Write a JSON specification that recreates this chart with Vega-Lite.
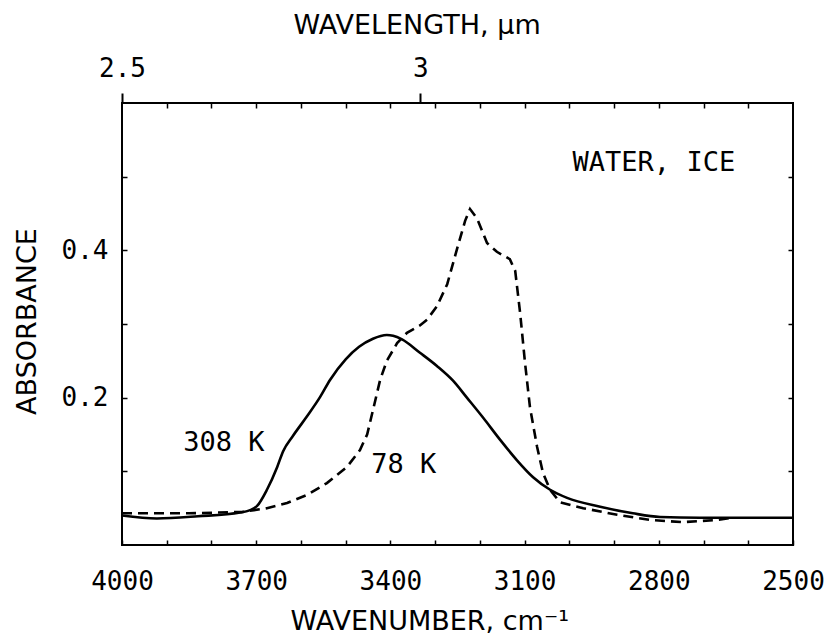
{
  "$schema": "https://vega.github.io/schema/vega-lite/v6.json",
  "width": 671,
  "height": 442,
  "autosize": {"type": "none"},
  "padding": {"left": 122, "top": 103, "right": 38, "bottom": 96},
  "background": "white",
  "config": {
    "view": {"stroke": "black", "strokeWidth": 2},
    "axis": {"grid": false, "domain": false, "tickColor": "black", "tickWidth": 1.5, "labelColor": "black", "titleColor": "black", "labelFont": "DejaVu Sans Mono", "labelFontSize": 26, "titleFont": "DejaVu Sans", "titleFontSize": 27, "titleFontWeight": "normal"}
  },
  "datasets": {
    "spectra": [
      {"series": "308 K", "wavenumber": 4000, "absorbance": 0.040},
      {"series": "308 K", "wavenumber": 3922, "absorbance": 0.036},
      {"series": "308 K", "wavenumber": 3830, "absorbance": 0.039},
      {"series": "308 K", "wavenumber": 3736, "absorbance": 0.044},
      {"series": "308 K", "wavenumber": 3715, "absorbance": 0.047},
      {"series": "308 K", "wavenumber": 3698, "absorbance": 0.053},
      {"series": "308 K", "wavenumber": 3676, "absorbance": 0.075},
      {"series": "308 K", "wavenumber": 3653, "absorbance": 0.106},
      {"series": "308 K", "wavenumber": 3640, "absorbance": 0.127},
      {"series": "308 K", "wavenumber": 3618, "absorbance": 0.148},
      {"series": "308 K", "wavenumber": 3586, "absorbance": 0.175},
      {"series": "308 K", "wavenumber": 3557, "absorbance": 0.201},
      {"series": "308 K", "wavenumber": 3535, "absorbance": 0.224},
      {"series": "308 K", "wavenumber": 3500, "absorbance": 0.252},
      {"series": "308 K", "wavenumber": 3470, "absorbance": 0.269},
      {"series": "308 K", "wavenumber": 3439, "absorbance": 0.280},
      {"series": "308 K", "wavenumber": 3408, "absorbance": 0.285},
      {"series": "308 K", "wavenumber": 3394, "absorbance": 0.284},
      {"series": "308 K", "wavenumber": 3374, "absorbance": 0.279},
      {"series": "308 K", "wavenumber": 3334, "absorbance": 0.261},
      {"series": "308 K", "wavenumber": 3296, "absorbance": 0.243},
      {"series": "308 K", "wavenumber": 3260, "absorbance": 0.223},
      {"series": "308 K", "wavenumber": 3229, "absorbance": 0.200},
      {"series": "308 K", "wavenumber": 3193, "absorbance": 0.173},
      {"series": "308 K", "wavenumber": 3155, "absorbance": 0.143},
      {"series": "308 K", "wavenumber": 3117, "absorbance": 0.115},
      {"series": "308 K", "wavenumber": 3081, "absorbance": 0.092},
      {"series": "308 K", "wavenumber": 3043, "absorbance": 0.075},
      {"series": "308 K", "wavenumber": 3005, "absorbance": 0.064},
      {"series": "308 K", "wavenumber": 2931, "absorbance": 0.052},
      {"series": "308 K", "wavenumber": 2858, "absorbance": 0.043},
      {"series": "308 K", "wavenumber": 2797, "absorbance": 0.038},
      {"series": "308 K", "wavenumber": 2708, "absorbance": 0.037},
      {"series": "308 K", "wavenumber": 2500, "absorbance": 0.037},
      {"series": "78 K", "wavenumber": 4000, "absorbance": 0.043},
      {"series": "78 K", "wavenumber": 3850, "absorbance": 0.043},
      {"series": "78 K", "wavenumber": 3730, "absorbance": 0.045},
      {"series": "78 K", "wavenumber": 3676, "absorbance": 0.050},
      {"series": "78 K", "wavenumber": 3631, "absorbance": 0.057},
      {"series": "78 K", "wavenumber": 3586, "absorbance": 0.068},
      {"series": "78 K", "wavenumber": 3542, "absorbance": 0.084},
      {"series": "78 K", "wavenumber": 3497, "absorbance": 0.106},
      {"series": "78 K", "wavenumber": 3468, "absorbance": 0.129},
      {"series": "78 K", "wavenumber": 3452, "absorbance": 0.150},
      {"series": "78 K", "wavenumber": 3439, "absorbance": 0.183},
      {"series": "78 K", "wavenumber": 3423, "absorbance": 0.224},
      {"series": "78 K", "wavenumber": 3408, "absorbance": 0.250},
      {"series": "78 K", "wavenumber": 3385, "absorbance": 0.274},
      {"series": "78 K", "wavenumber": 3363, "absorbance": 0.288},
      {"series": "78 K", "wavenumber": 3334, "absorbance": 0.298},
      {"series": "78 K", "wavenumber": 3318, "absorbance": 0.306},
      {"series": "78 K", "wavenumber": 3296, "absorbance": 0.324},
      {"series": "78 K", "wavenumber": 3273, "absorbance": 0.354},
      {"series": "78 K", "wavenumber": 3251, "absorbance": 0.402},
      {"series": "78 K", "wavenumber": 3233, "absorbance": 0.440},
      {"series": "78 K", "wavenumber": 3222, "absorbance": 0.456},
      {"series": "78 K", "wavenumber": 3206, "absorbance": 0.443},
      {"series": "78 K", "wavenumber": 3184, "absorbance": 0.410},
      {"series": "78 K", "wavenumber": 3162, "absorbance": 0.398},
      {"series": "78 K", "wavenumber": 3133, "absorbance": 0.388},
      {"series": "78 K", "wavenumber": 3121, "absorbance": 0.372},
      {"series": "78 K", "wavenumber": 3110, "absorbance": 0.315},
      {"series": "78 K", "wavenumber": 3099, "absorbance": 0.247},
      {"series": "78 K", "wavenumber": 3088, "absorbance": 0.187},
      {"series": "78 K", "wavenumber": 3072, "absorbance": 0.133},
      {"series": "78 K", "wavenumber": 3059, "absorbance": 0.098},
      {"series": "78 K", "wavenumber": 3043, "absorbance": 0.075},
      {"series": "78 K", "wavenumber": 3021, "absorbance": 0.058},
      {"series": "78 K", "wavenumber": 2969, "absorbance": 0.050},
      {"series": "78 K", "wavenumber": 2893, "absorbance": 0.041},
      {"series": "78 K", "wavenumber": 2820, "absorbance": 0.034},
      {"series": "78 K", "wavenumber": 2746, "absorbance": 0.031},
      {"series": "78 K", "wavenumber": 2670, "absorbance": 0.034},
      {"series": "78 K", "wavenumber": 2634, "absorbance": 0.037}
    ],
    "labels": [
      {"label": "308 K", "wavenumber": 3772, "absorbance": 0.138},
      {"label": "78 K", "wavenumber": 3370, "absorbance": 0.109},
      {"label": "WATER, ICE", "wavenumber": 2811, "absorbance": 0.519}
    ]
  },
  "resolve": {"axis": {"x": "independent", "y": "independent"}},
  "layer": [
    {
      "data": {"name": "spectra"},
      "transform": [{"filter": "datum.series == '308 K'"}],
      "mark": {"type": "line", "color": "black", "strokeWidth": 2.6, "interpolate": "monotone"},
      "encoding": {
        "x": {
          "field": "wavenumber", "type": "quantitative",
          "scale": {"domain": [2500, 4000], "reverse": true, "nice": false, "zero": false},
          "axis": {
            "orient": "bottom",
            "values": [4000, 3900, 3800, 3700, 3600, 3500, 3400, 3300, 3200, 3100, 3000, 2900, 2800, 2700, 2600, 2500],
            "format": "d",
            "labelExpr": "(4000 - datum.value) % 300 == 0 ? datum.label : ''",
            "tickSize": -5,
            "labelPadding": 28,
            "labelFlush": false,
            "labelOverlap": false,
            "title": "WAVENUMBER, cm⁻¹",
            "titleAlign": "left",
            "titleBaseline": "alphabetic",
            "titleX": 168,
            "titleY": 84
          }
        },
        "y": {
          "field": "absorbance", "type": "quantitative",
          "scale": {"domain": [0, 0.6], "nice": false, "zero": false},
          "axis": {
            "orient": "left",
            "values": [0.1, 0.2, 0.3, 0.4, 0.5],
            "format": ".1f",
            "labelExpr": "indexof(['0.2', '0.4'], datum.label) >= 0 ? datum.label : ''",
            "tickSize": -5,
            "labelPadding": 19,
            "labelOverlap": false,
            "title": "ABSORBANCE",
            "titleAngle": -90,
            "titleAlign": "center",
            "titleBaseline": "alphabetic",
            "titleX": -87,
            "titleY": 218
          }
        }
      }
    },
    {
      "data": {"name": "spectra"},
      "transform": [{"filter": "datum.series == '78 K'"}],
      "mark": {"type": "line", "color": "black", "strokeWidth": 2.6, "strokeDash": [10, 6]},
      "encoding": {
        "x": {
          "field": "wavenumber", "type": "quantitative",
          "axis": {
            "orient": "top",
            "values": [3900, 3800, 3700, 3600, 3500, 3400, 3300, 3200, 3100, 3000, 2900, 2800, 2700, 2600],
            "labels": false,
            "tickSize": -5,
            "title": "WAVELENGTH, µm",
            "titleAlign": "left",
            "titleBaseline": "alphabetic",
            "titleX": 171,
            "titleY": -70
          }
        },
        "y": {
          "field": "absorbance", "type": "quantitative",
          "axis": {
            "orient": "right",
            "values": [0.1, 0.2, 0.3, 0.4, 0.5],
            "labels": false,
            "tickSize": -5,
            "title": null
          }
        }
      }
    },
    {
      "data": {"name": "labels"},
      "mark": {"type": "text", "font": "DejaVu Sans Mono", "fontSize": 27, "color": "black", "align": "center", "baseline": "middle"},
      "encoding": {
        "x": {
          "field": "wavenumber", "type": "quantitative",
          "axis": {
            "orient": "top",
            "values": [4000, 3333.333],
            "labelExpr": "datum.value == 4000 ? '2.5' : '3'",
            "tickSize": 10,
            "tickWidth": 2,
            "labelPadding": 12,
            "labelFlush": false,
            "labelOverlap": false,
            "title": null
          }
        },
        "y": {"field": "absorbance", "type": "quantitative", "axis": null},
        "text": {"field": "label", "type": "nominal"}
      }
    }
  ]
}
